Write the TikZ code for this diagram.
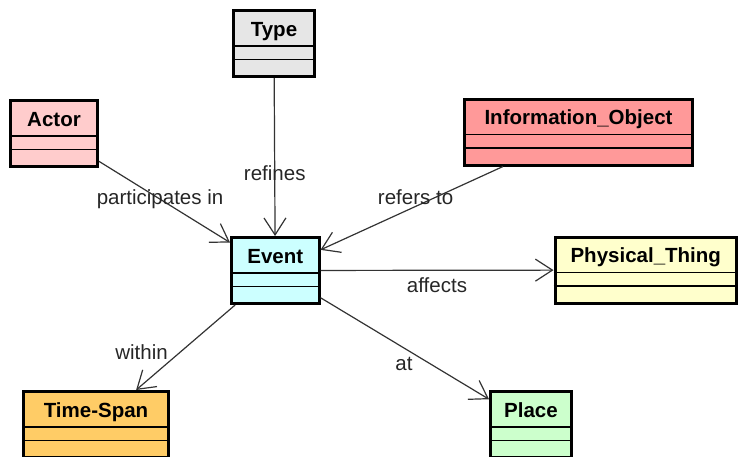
\documentclass[tikz,border=0pt]{standalone}
\usepackage{fontspec}
\setmainfont{Liberation Sans}
\usepackage{xcolor}
\usepackage{tikz}
\usetikzlibrary{arrows.meta}

\definecolor{typecol}{HTML}{E6E6E6}
\definecolor{actorcol}{HTML}{FFCCCC}
\definecolor{infocol}{HTML}{FF9999}
\definecolor{eventcol}{HTML}{CCFFFF}
\definecolor{thingcol}{HTML}{FFFFCC}
\definecolor{spancol}{HTML}{FFCC66}
\definecolor{placecol}{HTML}{CCFFCC}

\begin{document}
\begin{tikzpicture}[
    x = 1pt, y = -1pt, % pixel units, y grows downwards
    > = {Straight Barb[length=17pt, width=22pt]}, % open arrow head
    line width = 1.2pt, % line style
    font = \fontsize{20.5}{24}\selectfont
]
\tikzstyle{umlclass}=[
    draw = black,
    line width = 3pt,
    outer sep = 1.5pt,
    inner ysep = 0pt,
    minimum height = 66pt,
    text height = 25.5pt,
    text depth = 40.5pt,
    font = \fontsize{20.5}{24}\selectfont\bfseries
]
\tikzstyle{classline}=[draw = black, line width = 1.4pt]
\tikzstyle{relname}=[anchor = base, text = black!85, inner sep = 0pt]

\useasboundingbox (0,0) rectangle (738,456);

\node[umlclass, fill=eventcol, minimum width=87.5pt] (event) at (275.25,270.5) {Event};
\node[umlclass, fill=typecol, minimum width=81pt] (type) at (274,43.5) {Type};
\node[umlclass, fill=actorcol, minimum width=87pt] (actor) at (54,133.5) {Actor};
\node[umlclass, fill=infocol, minimum width=228pt] (info) at (578.5,132) {Information\_Object};
\node[umlclass, fill=thingcol, minimum width=181.5pt] (thing) at (645.75,270) {Physical\_Thing};
\node[umlclass, fill=spancol, minimum width=145pt] (span) at (96,424.5) {Time-Span};
\node[umlclass, fill=placecol, minimum width=81pt] (place) at (531,424.5) {Place};

% attribute and operation compartments
\foreach \c in {event,type,actor,info,thing,span,place} {
    \draw[classline] ([yshift=-37pt]\c.north west) -- ([yshift=-37pt]\c.north east);
    \draw[classline] ([yshift=-50.5pt]\c.north west) -- ([yshift=-50.5pt]\c.north east);
}

\path[->, draw=black!80] (actor) edge node[relname, pos=0.466, yshift=-5.5pt] {participates in} (event);
\path[->, draw=black!80] (type) edge node[relname, pos=0.646] {refines} (event);
\path[->, draw=black!80] (info) edge node[relname, pos=0.479, yshift=1.5pt] {refers to} (event);
\path[->, draw=black!80] (event) edge node[relname, pos=0.5, yshift=-22.7pt] {affects} (thing);
\path[->, draw=black!80] (event) edge node[relname, pos=0.642, xshift=-30pt] {within} (span);
\path[->, draw=black!80] (event) edge node[relname, pos=0.721, xshift=-38pt] {at} (place);

\end{tikzpicture}
\end{document}
